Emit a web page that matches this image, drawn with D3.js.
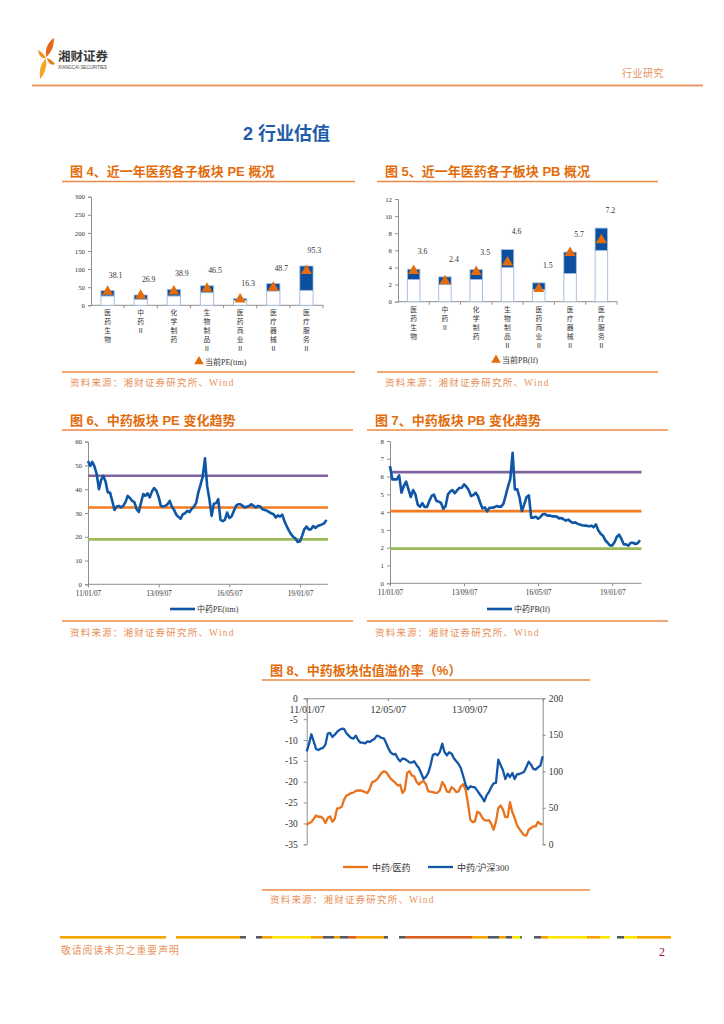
<!DOCTYPE html>
<html><head><meta charset="utf-8">
<script src="https://cdn.jsdelivr.net/npm/d3@7"></script>
<style>body{margin:0;background:#fff}svg{display:block}</style>
</head><body>
<svg id="page" width="724" height="1024"></svg>
<script>
// ---------------- DATA ----------------
const sectorCats = ["医药生物","中药Ⅱ","化学制药","生物制品Ⅱ","医药商业Ⅱ","医疗器械Ⅱ","医疗服务Ⅱ"];
const peMin = [25.8,16.6,25.8,35.0,14.0,39.6,41.4];
const peMax = [40.5,28.5,44.0,54.0,18.4,60.0,108.6];
const peNow = [38.1,26.9,38.9,46.5,16.3,48.7,95.3];
const pbMin = [2.6,2.0,2.6,4.0,1.4,3.3,6.0];
const pbMax = [3.8,2.9,3.75,6.1,2.2,5.8,8.6];
const pbNow = [3.6,2.4,3.5,4.6,1.5,5.7,7.2];
const peTicks = [0,50,100,150,200,250,300];
const pbTicks = [0,2,4,6,8,10,12];

// monthly series starting 2011-01-07
const trendStart = "2011-01-07";
const tcmPE = [51.9,49.8,51.5,49.5,46.3,40.0,43.9,45.6,43.1,38.6,
  38.6,35.1,31.3,32.7,33.0,32.4,33.0,34.6,37.2,36.3,
  35.1,34.6,31.6,30.4,34.4,38.0,37.2,38.3,36.6,39.1,
  40.5,39.3,36.7,33.0,32.7,33.0,33.7,35.1,32.7,31.3,
  29.3,28.3,27.6,29.5,29.9,30.9,30.4,31.8,32.7,34.4,
  38.6,41.9,45.3,53.0,41.4,35.8,28.8,33.9,34.1,35.8,
  27.1,26.6,27.1,30.2,27.9,28.5,30.7,33.0,33.7,33.7,
  33.0,32.3,32.7,33.0,33.7,33.0,32.3,33.0,32.7,31.6,
  31.3,31.0,30.4,29.9,29.5,28.1,29.0,28.5,29.3,26.5,
  24.5,22.6,21.0,19.9,19.2,17.8,18.1,20.6,23.1,24.3,
  23.1,23.1,24.5,23.7,24.5,24.8,25.2,25.7,27.1];
const peBands = [45.7,32.3,18.9];
const tcmPB = [6.6,5.84,5.84,5.84,6.07,5.09,5.47,5.71,5.28,4.85,
  5.24,5.0,4.42,4.31,4.51,4.29,4.29,4.63,4.91,4.98,
  4.64,4.59,4.53,4.19,4.34,5.0,5.15,5.24,5.06,5.22,
  5.36,5.37,5.56,5.43,5.24,4.91,4.96,5.09,4.91,4.53,
  4.21,4.27,4.04,4.25,4.25,4.27,4.34,4.31,4.31,4.48,
  4.91,5.43,5.84,7.34,5.28,5.28,4.81,4.06,4.44,4.85,
  4.94,3.69,3.69,3.75,3.63,3.73,3.88,3.9,3.8,3.82,
  3.76,3.76,3.75,3.65,3.67,3.6,3.52,3.58,3.48,3.39,
  3.43,3.35,3.3,3.26,3.24,3.24,3.2,3.24,3.15,3.31,
  2.98,2.79,2.68,2.42,2.28,2.13,2.13,2.32,2.6,2.73,
  2.51,2.19,2.19,2.12,2.28,2.28,2.21,2.25,2.42];
const pbBands = [6.25,4.06,1.95];
const trendTicks = ["2011-01-07","2013-09-07","2016-05-07","2019-01-07"];
const peAxisTicks = [0,10,20,30,40,50,60];
const pbAxisTicks = [0,1,2,3,4,5,6,7,8];

// bi-weekly series starting 2011-01-07
const premStart = "2011-01-07";
const premVsPharma = [-30.3,-29.9,-29.7,-28.9,-28.1,-28.4,-28.4,-28.8,-29.9,-28.7,
  -28.3,-29.6,-28.9,-26.4,-26.3,-26.0,-24.3,-23.3,-23.1,-22.7,
  -22.6,-22.2,-22.1,-22.1,-22.2,-22.5,-22.7,-21.7,-20.1,-19.9,
  -19.5,-18.7,-17.9,-17.5,-17.7,-18.5,-19.3,-19.8,-20.3,-20.9,
  -20.7,-22.7,-21.9,-17.9,-17.5,-18.5,-18.7,-20.0,-20.7,-20.1,
  -19.8,-20.6,-22.3,-22.4,-22.5,-22.7,-22.6,-22.1,-20.1,-20.9,
  -22.3,-22.5,-21.3,-21.7,-22.5,-22.3,-21.1,-20.6,-21.9,-25.1,
  -29.1,-29.7,-29.5,-27.2,-27.5,-28.5,-29.2,-29.3,-29.2,-30.1,
  -31.5,-29.5,-26.3,-25.7,-26.7,-28.5,-28.5,-24.9,-27.3,-28.7,
  -30.4,-31.3,-32.1,-32.8,-32.9,-31.5,-31.1,-30.7,-30.7,-29.6,
  -30.1,-30.3];
const premVsHS300 = [127.4,137.9,150.7,141.1,130.6,129.2,131.1,132.0,136.5,151.6,
  152.5,147.0,150.2,153.9,156.6,158.4,158.0,152.1,148.9,145.7,
  144.7,148.9,142.9,139.3,139.3,138.4,141.1,140.2,142.5,144.3,
  148.9,147.9,145.7,145.2,138.8,131.1,125.6,123.3,123.7,117.4,
  113.7,117.4,116.9,114.6,112.3,111.9,113.7,108.7,104.6,97.3,
  89.5,92.2,97.7,108.2,122.4,124.2,121.9,126.5,137.9,126.0,
  121.9,126.0,124.2,117.8,113.7,110.0,104.1,93.2,81.7,75.3,
  79.5,78.5,78.1,73.5,68.9,64.4,58.9,67.1,71.7,78.5,
  83.6,84.0,116.0,108.7,101.4,89.5,96.8,92.2,97.7,89.5,
  95.9,96.3,97.7,99.1,105.9,113.2,109.1,103.2,102.3,105.5,
  107.8,120.5];
const premTicks = ["2011-01-07","2012-05-07","2013-09-07"];
const premLeftTicks = [0,-5,-10,-15,-20,-25,-30,-35];
const premRightTicks = [0,50,100,150,200];

// ---------------- DRAW ----------------
const svg = d3.select("#page");
const CJK = "'Noto Sans CJK SC','Noto Sans CJK JP',sans-serif";
const SERIF = "'Liberation Serif','Noto Sans CJK SC',serif";
const TITLE_FONT = "'Liberation Sans','Noto Sans CJK SC',sans-serif";
const AXIS = "#8f8f8f";
const parse = d3.timeParse("%Y-%m-%d");
const fmtDate = d3.timeFormat("%y/%m/%d");
const SRC = "资料来源：湘财证券研究所、Wind";

// header logo
const logo = svg.append("g");
[["M46,57 C45,48 48,42 54,38 C54,47 51,53 46,57Z","#E2691C"],
 ["M46,58 C43,53 40,51 38,50 C39,56 42,59 46,58Z","#F0901E"],
 ["M46,59 C41,62 39,70 40,79 C45,74 47,66 46,59Z","#F6A523"],
 ["M47,58 C50,59 53,61 55,64 C51,66 48,63 47,58Z","#E97B1E"]]
 .forEach(([d,c])=>logo.append("path").attr("d",d).attr("fill",c));
svg.append("text").attr("x",58).attr("y",61).text("湘财证券")
  .attr("font-family",CJK).attr("font-weight","bold").attr("font-size",12.5).attr("fill","#3a3a3a");
svg.append("text").attr("x",58).attr("y",69).text("XIANGCAI SECURITIES")
  .attr("font-family","'Liberation Sans Narrow','Liberation Sans',sans-serif").attr("font-size",5.2)
  .attr("textLength",49).attr("lengthAdjust","spacingAndGlyphs").attr("fill","#444");
svg.append("text").attr("x",622).attr("y",77).text("行业研究")
  .attr("font-family",CJK).attr("font-size",10).attr("letter-spacing",0.5).attr("fill","#E8915A");
svg.append("line").attr("x1",32).attr("x2",703).attr("y1",85.5).attr("y2",85.5)
  .attr("stroke","#EA9A66").attr("stroke-width",2);
svg.append("text").attr("x",243).attr("y",140).text("2 行业估值")
  .attr("font-family",TITLE_FONT).attr("font-weight","bold").attr("font-size",18).attr("fill","#1F5DAA");

// panel frame
function panel(x0,x1,titleX,titleY,topY,botY,srcY,title){
  svg.append("text").attr("x",titleX).attr("y",titleY).text(title)
    .attr("font-family",TITLE_FONT).attr("font-weight","bold").attr("font-size",13)
    .attr("fill","#E36C0A").attr("xml:space","preserve");
  [topY,botY].forEach(y=>svg.append("line").attr("x1",x0).attr("x2",x1).attr("y1",y).attr("y2",y)
    .attr("stroke","#EE8A45").attr("stroke-width",1.6));
  svg.append("text").attr("x",titleX).attr("y",srcY).text(SRC)
    .attr("font-family",SERIF).attr("font-size",9.5).attr("letter-spacing",1.2).attr("fill","#E8915A");
}
panel(62,355,70,176,181.5,372,385.5,"图 4、近一年医药各子板块 PE 概况");
panel(377,658,385,176,181.5,372,385.5,"图 5、近一年医药各子板块 PB 概况");
panel(62,353,70,425,430,621,636,"图 6、中药板块 PE 变化趋势");
panel(367,668,375,425,430,621,636,"图 7、中药板块 PB 变化趋势");
panel(262,590,270,675,680,890,903,"图 8、中药板块估值溢价率（%）");

function styleAxis(g,fs,font){
  g.select(".domain").attr("stroke",AXIS);
  g.selectAll(".tick line").attr("stroke",AXIS);
  g.selectAll(".tick text").attr("font-family",font||SERIF).attr("font-size",fs).attr("fill","#333");
}

// bar charts
function barChart(o){
  const x = d3.scaleBand().domain(sectorCats).range(o.xr).paddingInner(0.6).paddingOuter(0.3);
  const y = d3.scaleLinear().domain(o.yd).range(o.yr);
  const g = svg.append("g");
  const ya = g.append("g").attr("transform",`translate(${o.xr[0]},0)`)
    .call(d3.axisLeft(y).tickValues(o.ticks).tickSize(3).tickPadding(3).tickFormat(d=>String(d)));
  styleAxis(ya,6.8);
  g.append("line").attr("x1",o.xr[0]).attr("x2",o.xr[1]).attr("y1",y(0)).attr("y2",y(0)).attr("stroke",AXIS);
  sectorCats.forEach(c=>{
    const bx = x(c)+x.bandwidth()/2+x.step()/2;
    g.append("line").attr("x1",bx).attr("x2",bx).attr("y1",y(0)).attr("y2",y(0)+3).attr("stroke",AXIS);
  });
  sectorCats.forEach((c,i)=>{
    g.append("rect").attr("x",x(c)).attr("width",x.bandwidth()).attr("y",y(o.min[i]))
      .attr("height",y(0)-y(o.min[i])).attr("fill","#fff").attr("stroke","#A9C1E0").attr("stroke-width",1);
    g.append("rect").attr("x",x(c)).attr("width",x.bandwidth()).attr("y",y(o.max[i]))
      .attr("height",y(o.min[i])-y(o.max[i])).attr("fill","#0D4F9F").attr("stroke","#A9C1E0").attr("stroke-width",0.8);
    const cx = x(c)+x.bandwidth()/2;
    g.append("path").attr("d",d3.symbol(d3.symbolTriangle,52)())
      .attr("transform",`translate(${cx},${y(o.now[i])})`).attr("fill","#E46C0A");
    g.append("text").attr("x",cx+o.ldx).attr("y",y(o.max[i])-o.ldy).attr("text-anchor","middle")
      .text(d3.format(".1f")(o.now[i])).attr("font-family",SERIF).attr("font-size",7.8).attr("fill","#333");
    Array.from(c).forEach((ch,k)=>g.append("text").attr("x",cx).attr("y",y(0)+10+k*9)
      .attr("text-anchor","middle").text(ch).attr("font-family",CJK).attr("font-size",6.8).attr("fill","#333"));
  });
  g.append("path").attr("d",d3.symbol(d3.symbolTriangle,40)())
    .attr("transform",`translate(${o.lx},${o.ly})`).attr("fill","#E46C0A");
  g.append("text").attr("x",o.lx+6).attr("y",o.ly+3).text(o.legend)
    .attr("font-family",SERIF).attr("font-size",8).attr("fill","#333");
}
barChart({xr:[91,323],yr:[305.3,196.7],yd:[0,300],ticks:peTicks,min:peMin,max:peMax,now:peNow,
  ldx:8,ldy:13,lx:199,ly:361.5,legend:"当前PE(ttm)"});
barChart({xr:[398,617],yr:[301.7,199],yd:[0,12],ticks:pbTicks,min:pbMin,max:pbMax,now:pbNow,
  ldx:9,ldy:15,lx:496,ly:360,legend:"当前PB(lf)"});

// trend charts
function trendChart(o){
  const t0 = parse(trendStart);
  const data = o.values.map((v,i)=>({d:d3.timeMonth.offset(t0,i),v}));
  const x = d3.scaleTime().domain([t0,data[data.length-1].d]).range(o.xr);
  const y = d3.scaleLinear().domain(o.yd).range(o.yr);
  const g = svg.append("g");
  const ya = g.append("g").attr("transform",`translate(${o.xr[0]},0)`)
    .call(d3.axisLeft(y).tickValues(o.ticks).tickSize(3).tickPadding(3).tickFormat(d=>String(d)));
  styleAxis(ya,6.8);
  const xa = g.append("g").attr("transform",`translate(0,${y(0)})`)
    .call(d3.axisBottom(x).tickValues(trendTicks.map(parse)).tickSize(3).tickPadding(4).tickFormat(fmtDate));
  xa.select(".domain").attr("d",`M${o.xr[0]},0H${o.xr[1]+1.5}`);
  styleAxis(xa,7.2);
  const bandColors = ["#8064A2","#F47B20","#9BBB59"];
  o.bands.forEach((b,i)=>g.append("line").attr("x1",o.xr[0]).attr("x2",o.xr[1]+1.5)
    .attr("y1",y(b)).attr("y2",y(b)).attr("stroke",bandColors[i]).attr("stroke-width",2.6));
  g.append("path").datum(data).attr("fill","none").attr("stroke","#0F56A6").attr("stroke-width",2.6)
    .attr("stroke-linejoin","round")
    .attr("d",d3.line().x(d=>x(d.d)).y(d=>y(d.v)));
  g.append("line").attr("x1",o.lx).attr("x2",o.lx+25).attr("y1",609).attr("y2",609)
    .attr("stroke","#0F56A6").attr("stroke-width",2.6);
  g.append("text").attr("x",o.lx+27).attr("y",612).text(o.legend)
    .attr("font-family",SERIF).attr("font-size",8).attr("fill","#333");
}
trendChart({values:tcmPE,bands:peBands,xr:[88,326.5],yr:[584.3,441.7],yd:[0,60],ticks:peAxisTicks,
  lx:170,legend:"中药PE(ttm)"});
trendChart({values:tcmPB,bands:pbBands,xr:[390,640],yr:[583.3,441],yd:[0,8],ticks:pbAxisTicks,
  lx:487,legend:"中药PB(lf)"});

// premium chart
(function(){
  const t0 = parse(premStart);
  const dates = premVsPharma.map((_,i)=>d3.timeDay.offset(t0,14*i));
  const x = d3.scaleTime().domain([t0,dates[dates.length-1]]).range([306.7,542.7]);
  const yL = d3.scaleLinear().domain([-35,0]).range([844.3,698.3]);
  const yR = d3.scaleLinear().domain([0,200]).range([844.3,698.3]);
  const g = svg.append("g");
  const la = g.append("g").attr("transform","translate(306.7,0)")
    .call(d3.axisLeft(yL).tickValues(premLeftTicks).tickSize(3).tickPadding(6).tickFormat(d=>String(d)));
  styleAxis(la,9.5);
  const ra = g.append("g").attr("transform","translate(542.7,0)")
    .call(d3.axisRight(yR).tickValues(premRightTicks).tickSize(3).tickPadding(3).tickFormat(d=>String(d)));
  styleAxis(ra,9.5);
  const xa = g.append("g").attr("transform",`translate(0,${yL(0)})`)
    .call(d3.axisBottom(x).tickValues(premTicks.map(parse)).tickSize(3).tickPadding(5).tickFormat(fmtDate));
  styleAxis(xa,10);
  g.append("path").datum(premVsPharma).attr("fill","none").attr("stroke","#E8731C").attr("stroke-width",2.3)
    .attr("stroke-linejoin","round").attr("d",d3.line().x((d,i)=>x(dates[i])).y(d=>yL(d)));
  g.append("path").datum(premVsHS300).attr("fill","none").attr("stroke","#1257A7").attr("stroke-width",2.3)
    .attr("stroke-linejoin","round").attr("d",d3.line().x((d,i)=>x(dates[i])).y(d=>yR(d)));
  [[343,"#E8731C","中药/医药"],[428,"#1257A7","中药/沪深300"]].forEach(([lx,c,t])=>{
    g.append("line").attr("x1",lx).attr("x2",lx+25).attr("y1",867).attr("y2",867).attr("stroke",c).attr("stroke-width",2.3);
    g.append("text").attr("x",lx+29).attr("y",870.5).text(t).attr("font-family",SERIF).attr("font-size",9).attr("fill","#333");
  });
})();

// footer decorative rule
const footSegs = [[60,166,"#F5A300"],[176,240,"#F5A300"],[240,246,"#555a66"],
  [256,262,"#555a66"],[262,272,"#F5A300"],[272,311,"#FFE600"],[311,323,"#F5A300"],[323,334,"#555a66"],
  [334,340,"#F5A300"],[340,348,"#555a66"],[348,356,"#D8601A"],[356,384,"#F5A300"],[384,388,"#555a66"],
  [399,405,"#555a66"],[405,472,"#D8601A"],[472,488,"#F5A300"],[488,499,"#555a66"],[499,506,"#F5A300"],
  [506,512,"#555a66"],[512,520,"#FFE600"],[520,522,"#3a9a3a"],
  [534,541,"#555a66"],[541,548,"#F5A300"],[548,587,"#FFE600"],[587,600,"#F5A300"],[600,610,"#FFE600"],
  [617,624,"#555a66"],[624,637,"#FFE600"],[637,671,"#F5A300"]];
footSegs.forEach(([a,b,c])=>svg.append("rect").attr("x",a).attr("y",936).attr("width",b-a).attr("height",2.6).attr("fill",c));
svg.append("text").attr("x",61).attr("y",954).text("敬请阅读末页之重要声明")
  .attr("font-family",CJK).attr("font-size",9.8).attr("letter-spacing",1).attr("fill","#E8915A");
svg.append("text").attr("x",659).attr("y",956).text("2")
  .attr("font-family",SERIF).attr("font-size",12).attr("fill","#A0102A");
</script>
</body></html>
